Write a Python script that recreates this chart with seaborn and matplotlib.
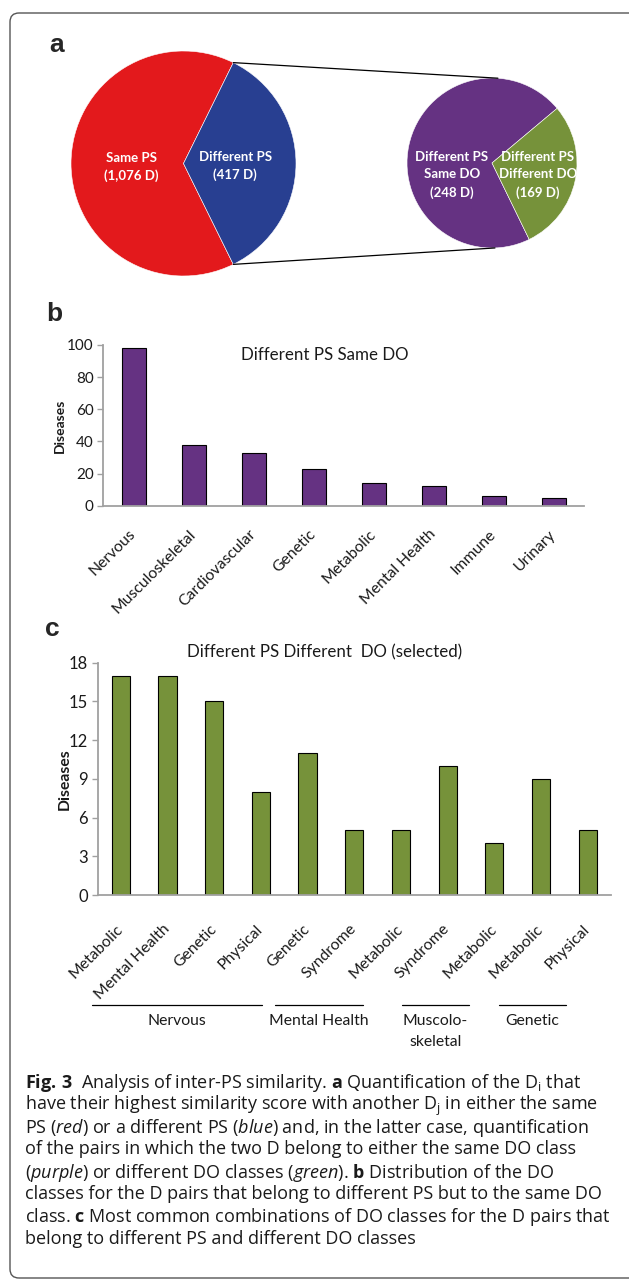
import numpy as np
import pandas as pd
import matplotlib
matplotlib.use("Agg")
import matplotlib.pyplot as plt
from matplotlib import transforms
from matplotlib.patches import FancyBboxPatch, ConnectionPatch
import seaborn as sns

sns.set_theme(style="white")
plt.rcParams['font.family'] = ['Lato', 'DejaVu Sans']
plt.rcParams['mathtext.fontset'] = 'custom'
plt.rcParams['mathtext.rm'] = 'Open Sans'
plt.rcParams['mathtext.it'] = 'Open Sans:italic'
plt.rcParams['mathtext.bf'] = 'Open Sans:bold'

# ---- data ----
# panel a: counts shown in labels, wedge shares as drawn in the figure
ps_names = ["Same PS", "Different PS"]
ps_counts = [1076, 417]
ps_share = [64.6, 35.4]
do_names = ["Different PS\nSame DO", "Different PS\nDifferent DO"]
do_counts = [248, 169]
do_share = [71.1, 28.9]

# panel b
b_classes = ["Nervous", "Musculoskeletal", "Cardiovascular", "Genetic",
             "Metabolic", "Mental Health", "Immune", "Urinary"]
b_values = [98, 38, 33, 23, 14, 12, 6, 5]

# panel c
c_classes = ["Metabolic", "Mental Health", "Genetic", "Physical", "Genetic",
             "Syndrome", "Metabolic", "Syndrome", "Metabolic", "Metabolic", "Physical"]
c_values = [17, 17, 15, 8, 11, 5, 5, 10, 4, 9, 5]
c_groups = ["Nervous", "Mental Health", "Muscolo-\nskeletal", "Genetic"]
c_group_span = [(-0.62, 3.02), (3.30, 5.19), (6.02, 7.46), (8.10, 9.53)]

caption = [
    r"$\mathbf{Fig.\,3}$  Analysis of inter-PS similarity. $\mathbf{a}$ Quantification of the D$_\mathrm{i}$ that",
    r"have their highest similarity score with another D$_\mathrm{j}$ in either the same",
    r"PS ($\mathit{red}$) or a different PS ($\mathit{blue}$) and, in the latter case, quantification",
    r"of the pairs in which the two D belong to either the same DO class",
    r"($\mathit{purple}$) or different DO classes ($\mathit{green}$). $\mathbf{b}$ Distribution of the DO",
    r"classes for the D pairs that belong to different PS but to the same DO",
    r"class. $\mathbf{c}$ Most common combinations of DO classes for the D pairs that",
    r"belong to different PS and different DO classes",
]

red, blue = "#E3191C", "#283F91"
purple, green = "#653282", "#76923A"
axis_gray = "#A0A0A0"
txt = "#1a1a1a"

W, H = 629, 1282
fig = plt.figure(figsize=(W / 100, H / 100), dpi=100)


def px_axes(x0, y0, x1, y1):
    return fig.add_axes([x0 / W, 1 - y1 / H, (x1 - x0) / W, (y1 - y0) / H])


# frame round the whole figure
frame = FancyBboxPatch((0.10, 0.04), 6.5, 12.65, boxstyle="round,pad=0,rounding_size=0.09",
                       transform=fig.dpi_scale_trans, fill=False, edgecolor="#555555", lw=1)
fig.add_artist(frame)

# ---- panel a ----
lab_kw = dict(ha="center", va="center", color="white", fontweight="bold",
              fontsize=9.5, linespacing=1.55)

ax1 = px_axes(71, 51, 296, 276)
w1, _ = ax1.pie(ps_share, colors=[red, blue], startangle=360 * ps_share[1] / sum(ps_share) / 2,
                wedgeprops=dict(edgecolor="white", linewidth=0.4))
ax1.set_xlim(-1, 1)
ax1.set_ylim(-1, 1)
ax1.text(-0.46, -0.03, f"{ps_names[0]}\n({ps_counts[0]:,} D)", **lab_kw)
ax1.text(0.46, -0.02, f"{ps_names[1]}\n({ps_counts[1]:,} D)", **lab_kw)

ax2 = px_axes(407, 78, 577, 248)
ax2.pie(do_share, colors=[purple, green], startangle=40,
        wedgeprops=dict(edgecolor="white", linewidth=0.4))
ax2.set_xlim(-1, 1)
ax2.set_ylim(-1, 1)
ax2.text(-0.47, -0.14, f"{do_names[0]}\n({do_counts[0]} D)", **lab_kw)
ax2.text(0.54, -0.14, f"{do_names[1]}\n({do_counts[1]} D)", **lab_kw)

# lines from the blue wedge to the second pie
for th, th2 in [(w1[1].theta2, 86), (w1[1].theta1, -88)]:
    a = np.deg2rad(th)
    b = np.deg2rad(th2)
    con = ConnectionPatch(xyA=(np.cos(a), np.sin(a)), coordsA=ax1.transData,
                          xyB=(np.cos(b), np.sin(b)), coordsB=ax2.transData,
                          color="black", lw=0.9)
    fig.add_artist(con)


def style_bar_axes(ax, ysize, xsize, xpad):
    sns.despine(ax=ax)
    for s in ["left", "bottom"]:
        ax.spines[s].set_color(axis_gray)
        ax.spines[s].set_linewidth(1.3)
    ax.tick_params(axis="y", left=True, length=4, width=1, color=axis_gray,
                   labelsize=ysize, labelcolor=txt, pad=3)
    ax.tick_params(axis="x", bottom=False, length=0, labelsize=xsize, labelcolor=txt, pad=xpad)
    for lab in ax.get_xticklabels():
        lab.set_rotation(45)
        lab.set_ha("right")
        lab.set_va("center")
        lab.set_rotation_mode("anchor")
    ax.set_xlabel("")


# ---- panel b ----
axb = px_axes(103.5, 345, 583.7, 505.7)
df_b = pd.DataFrame({"cls": b_classes, "n": b_values})
sns.barplot(data=df_b, x="cls", y="n", color=purple, saturation=1, width=0.4,
            edgecolor="black", linewidth=0.8, ax=axb)
axb.set_xlim(-0.5, len(b_classes) - 0.5)
axb.set_ylim(0, 100)
axb.set_yticks(range(0, 101, 20))
style_bar_axes(axb, 11, 11.3, 19)
axb.set_ylabel("Diseases", fontweight="bold", fontsize=10, color=txt)
axb.yaxis.set_label_coords(-0.079, 0.5)
fig.text(325 / W, 1 - 355 / H, "Different PS Same DO", ha="center", va="center",
         fontsize=12.2, color=txt)

# ---- panel c ----
axc = px_axes(97.5, 662.7, 611, 895)
df_c = pd.DataFrame({"pos": range(len(c_classes)), "cls": c_classes, "n": c_values})
sns.barplot(data=df_c, x="pos", y="n", color=green, saturation=1, width=0.39,
            edgecolor="black", linewidth=0.8, ax=axc)
axc.set_xticks(range(len(c_classes)))
axc.set_xticklabels(c_classes)
axc.set_ylim(0, 18)
axc.set_yticks(range(0, 19, 3))
style_bar_axes(axc, 12, 11.3, 23)
axc.set_ylabel("Diseases", fontweight="bold", fontsize=11.3, color=txt)
axc.yaxis.set_label_coords(-0.05, 0.5)
fig.text(325 / W, 1 - 652 / H, "Different PS Different  DO (selected)", ha="center",
         va="center", fontsize=12.2, color=txt)

tr = transforms.blended_transform_factory(axc.transData, fig.transFigure)
for name, (x0, x1) in zip(c_groups, c_group_span):
    axc.plot([x0, x1], [1 - 1005 / H] * 2, color="black", lw=0.9, transform=tr, clip_on=False)
    axc.text((x0 + x1) / 2, 1 - 1014 / H, name, ha="center", va="top", fontsize=11.3,
             color=txt, linespacing=1.6, transform=tr)
axc.set_xlim(-0.5, len(c_classes) - 0.5)

# panel letters
for letter, (x, y) in zip("abc", [(57, 45), (54.5, 314), (52.5, 628.5)]):
    fig.text(x / W, 1 - y / H, letter, ha="center", va="center", fontsize=19,
             fontweight="bold", family="Liberation Sans")

# caption
for i, line in enumerate(caption):
    fig.text(25 / W, 1 - (1080 + 22.4 * i) / H, line, ha="left", va="center_baseline",
             fontsize=13, family="Open Sans", color=txt)

fig.savefig("out.png", dpi=100)
